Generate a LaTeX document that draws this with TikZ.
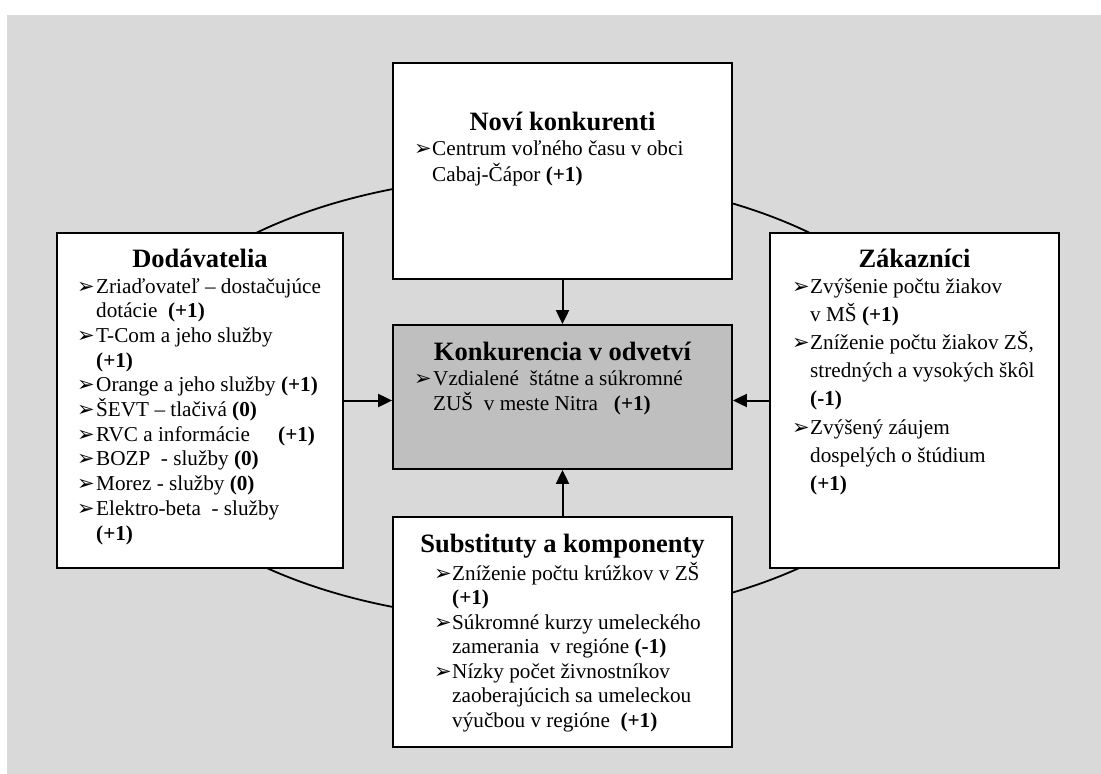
\documentclass[tikz,border=0pt]{standalone}
\usepackage{fontspec}
\setmainfont{Liberation Serif}
\newfontfamily\dingfont{DejaVu Sans}
\usetikzlibrary{arrows.meta}
\definecolor{bggray}{RGB}{217,217,217}
\definecolor{coregray}{RGB}{191,191,191}
\newcommand{\bul}{{\dingfont\fontsize{21bp}{21bp}\selectfont ➢}}

\begin{document}
\begin{tikzpicture}[x=1bp,y=-1bp,
  box/.style={draw=black, line width=1.8bp, fill=white, inner sep=0pt},
  ttl/.style={anchor=base, inner sep=0pt, font=\fontsize{26.5bp}{30bp}\selectfont\bfseries},
  txt/.style={anchor=base west, inner sep=0pt, font=\fontsize{21.2bp}{25bp}\selectfont},
  bl/.style={anchor=base west, inner sep=0pt},
  arr/.style={line width=2bp, -{Triangle[length=14bp,width=13bp]}},
  ring/.style={line width=1.8bp}
]
\useasboundingbox (0,0) rectangle (1101,774);
\fill[bggray] (7,15) rectangle (1101,774);

% the ring linking the four forces
\draw[ring] (533,398) ellipse [x radius=414bp, y radius=222bp];

% boxes
\node[box, minimum width=339bp, minimum height=216bp] (T) at (562.5,171) {};
\node[box, minimum width=286bp, minimum height=335bp] (D) at (200,400.5) {};
\node[box, minimum width=289bp, minimum height=335bp] (Z) at (914.5,400.5) {};
\node[box, fill=coregray, minimum width=339bp, minimum height=144bp] (C) at (562.5,397) {};
\node[box, minimum width=339bp, minimum height=230bp] (S) at (562.5,632) {};

% arrows into the centre
\draw[arr] (T.south) -- (C.north);
\draw[arr] (S.north) -- (C.south);
\draw[arr] (D.east) -- (D.east -| C.west);
\draw[arr] (Z.west) -- (Z.west -| C.east);

% Noví konkurenti
\node[ttl] (Tt) at (562.5,130) {Noví konkurenti};
\node[bl] (Tb1) at (414,155) {\bul};
\node[txt] (T1) at (432,155) {Centrum voľného času v obci};
\node[txt] (T2) at (432,181) {Cabaj-Čápor \textbf{(+1)}};

% Konkurencia v odvetví
\node[ttl] (Ct) at (562.5,360) {Konkurencia v odvetví};
\node[bl] (Cb1) at (414,385) {\bul};
\node[txt] (C1) at (433,385) {Vzdialené\ \ štátne a súkromné};
\node[txt] (C2) at (433,410) {ZUŠ\ \ v meste Nitra\ \ \ \textbf{(+1)}};

% Dodávatelia
\node[ttl] (Dt) at (200,267) {Dodávatelia};
\foreach \t [count=\i] in {
  {Zriaďovateľ – dostačujúce},
  {dotácie\ \ \textbf{(+1)}},
  {T-Com a jeho služby},
  {\textbf{(+1)}},
  {Orange a jeho služby \textbf{(+1)}},
  {ŠEVT – tlačivá \textbf{(0)}},
  {RVC a informácie\hspace{23bp} \textbf{(+1)}},
  {BOZP\ \ - služby \textbf{(0)}},
  {Morez - služby \textbf{(0)}},
  {Elektro-beta\ \ - služby},
  {\textbf{(+1)}}}
  \node[txt] (D\i) at (96,{293+24.7*(\i-1)}) {\t};
\foreach \k [count=\i] in {1,3,5,6,7,8,9,10}
  \node[bl] (Db\i) at (77,{293+24.7*(\k-1)}) {\bul};

% Zákazníci
\node[ttl] (Zt) at (914.5,267) {Zákazníci};
\foreach \t [count=\i] in {
  {Zvýšenie počtu žiakov},
  {v MŠ \textbf{(+1)}},
  {Zníženie počtu žiakov ZŠ,},
  {stredných a vysokých škôl},
  {\textbf{(-1)}},
  {Zvýšený záujem},
  {dospelých o štúdium},
  {\textbf{(+1)}}}
  \node[txt] (Z\i) at (810,{293+28.2*(\i-1)}) {\t};
\foreach \k [count=\i] in {1,3,6}
  \node[bl] (Zb\i) at (792,{293+28.2*(\k-1)}) {\bul};

% Substituty a komponenty
\node[ttl] (St) at (562.5,552) {Substituty a komponenty};
\foreach \t [count=\i] in {
  {Zníženie počtu krúžkov v ZŠ},
  {\textbf{(+1)}},
  {Súkromné kurzy umeleckého},
  {zamerania\ \ v regióne \textbf{(-1)}},
  {Nízky počet živnostníkov},
  {zaoberajúcich sa umeleckou},
  {výučbou v regióne\ \ \textbf{(+1)}}}
  \node[txt] (S\i) at (452,{580+24.5*(\i-1)}) {\t};
\foreach \k [count=\i] in {1,3,5}
  \node[bl] (Sb\i) at (434,{580+24.5*(\k-1)}) {\bul};
\end{tikzpicture}
\end{document}
